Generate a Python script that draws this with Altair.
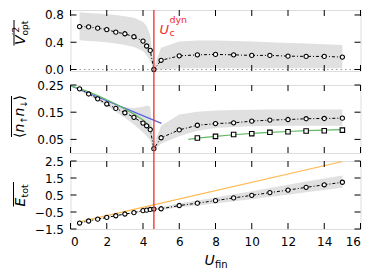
import altair as alt
import pandas as pd

# ---------------- data ----------------
U = [0.5, 1.0, 1.5, 2.0, 2.5, 3.0, 3.5, 4.0, 4.2, 4.4, 4.6, 5, 6, 7, 8, 9, 10, 11, 12, 13, 14, 15]

V2 = [0.63, 0.625, 0.607, 0.586, 0.548, 0.524, 0.48, 0.417, 0.345, 0.28, 0.0, 0.135, 0.2,
      0.215, 0.221, 0.215, 0.207, 0.207, 0.196, 0.192, 0.192, 0.182]
V2_lo = [0.43, 0.42, 0.41, 0.40, 0.38, 0.36, 0.33, 0.27, 0.21, 0.12, 0.0, 0.0, 0.02,
         0.02, 0.02, 0.02, 0.02, 0.02, 0.02, 0.02, 0.02, 0.02]
V2_hi = [0.84, 0.83, 0.82, 0.81, 0.80, 0.78, 0.76, 0.70, 0.64, 0.50, 0.04, 0.32, 0.41,
         0.425, 0.425, 0.42, 0.41, 0.40, 0.39, 0.38, 0.37, 0.36]

D = [0.236, 0.217, 0.199, 0.180, 0.164, 0.148, 0.131, 0.110, 0.100, 0.086, 0.016, 0.056, 0.085,
     0.102, 0.108, 0.111, 0.117, 0.121, 0.123, 0.126, 0.127, 0.128]
D_lo = [0.230, 0.211, 0.192, 0.172, 0.152, 0.130, 0.105, 0.075, 0.062, 0.048, 0.008, 0.035, 0.062,
        0.082, 0.092, 0.096, 0.098, 0.099, 0.100, 0.100, 0.100, 0.100]
D_hi = [0.242, 0.224, 0.206, 0.189, 0.176, 0.168, 0.165, 0.170, 0.175, 0.170, 0.030, 0.100, 0.142,
        0.152, 0.156, 0.158, 0.159, 0.160, 0.160, 0.160, 0.160, 0.160]

U_sq = [7, 8, 9, 10, 11, 12, 13, 14, 15]
D_sq = [0.055, 0.061, 0.068, 0.071, 0.076, 0.078, 0.081, 0.082, 0.084]

U_green_l = [0.0, 0.5, 1.0, 1.5, 2.0, 2.5, 3.0, 3.5, 4.0, 4.2, 4.4, 4.47]
D_green_l = [0.247, 0.237, 0.225, 0.211, 0.196, 0.180, 0.162, 0.143, 0.121, 0.110, 0.096, 0.090]
U_green_r = [6.5, 7, 8, 9, 10, 11, 12, 13, 14, 15]
D_green_r = [0.050, 0.055, 0.061, 0.067, 0.072, 0.076, 0.079, 0.082, 0.084, 0.086]
U_blue = [0.0, 5.02]
D_blue = [0.247, 0.109]

E = [-1.15, -1.03, -0.92, -0.82, -0.72, -0.62, -0.54, -0.42, -0.39, -0.35, -0.33, -0.31, -0.12,
     0.02, 0.17, 0.33, 0.48, 0.64, 0.79, 0.95, 1.10, 1.25]
E_lo = [-1.18, -1.06, -0.95, -0.85, -0.75, -0.65, -0.57, -0.46, -0.43, -0.39, -0.38, -0.38, -0.22,
        -0.12, 0.00, 0.13, 0.25, 0.39, 0.52, 0.66, 0.79, 0.92]
E_hi = [-1.12, -1.00, -0.89, -0.79, -0.69, -0.59, -0.51, -0.38, -0.35, -0.31, -0.28, -0.22, 0.01,
        0.18, 0.35, 0.54, 0.72, 0.91, 1.10, 1.29, 1.47, 1.65]
U_orange = [0.5, 15.0]
E_orange = [-1.08, 2.47]

UC = [4.6]
ZERO = [0.0]
X_TICKS = [0, 2, 4, 6, 8, 10, 12, 14, 16]
Y1_TICKS = [0.0, 0.4, 0.8]
Y2_TICKS = [0.05, 0.15, 0.25]
Y3_TICKS = [-1.5, -0.5, 0.5, 1.5, 2.5]

# ---------------- layout/styles ----------------
W = 290
H1, H2, H3 = 61, 68, 68
FONT = "DejaVu Sans"
RED = "#f22a2a"
BAND = "#e0e0e0"
TICK = 6

ONE = pd.DataFrame({"k": [0]})
UC_DF = pd.DataFrame({"u": UC})


def xenc(show):
    if show:
        ax = alt.Axis(values=X_TICKS, format="d", ticks=False, domain=False, grid=False,
                      title=None, labelPadding=7, labelFontSize=12, labelFont=FONT,
                      labelColor="black")
    else:
        ax = None
    return alt.X("u:Q", scale=alt.Scale(domain=[0, 16], nice=False, zero=False), axis=ax)


def yenc(field, domain, ticks, fmt):
    return alt.Y(field, scale=alt.Scale(domain=domain, nice=False, zero=False),
                 axis=alt.Axis(values=ticks, format=fmt, ticks=False, domain=False, grid=False,
                               title=None, labelPadding=7, labelFontSize=12, labelFont=FONT,
                               labelColor="black"))


def text(txt, x, y, size, style="normal", dx=0, dy=0, angle=270, color="black", data=ONE):
    return alt.Chart(data).mark_text(text=txt, angle=angle, align="left", baseline="alphabetic",
                                     font=FONT, fontSize=size, fontStyle=style, dx=dx, dy=dy,
                                     color=color).encode(x=x, y=y)


def panel(H, domain, ticks, fmt, show_x, series_df, lo_hi_df, extra_layers, red_extend, title_layers):
    yq = lambda f: yenc(f, domain, ticks, fmt)
    xe = xenc(show_x)
    band = alt.Chart(lo_hi_df).mark_area(color=BAND, opacity=1).encode(
        x=xe, y=yq("lo:Q"), y2="hi:Q")
    line = alt.Chart(series_df).mark_line(color="black", strokeWidth=1, strokeDash=[3, 2, 1, 2]).encode(
        x=xe, y=yq("v:Q"))
    pts = alt.Chart(series_df).mark_point(shape="circle", size=18, fill="white", stroke="black",
                                          strokeWidth=1.1, opacity=1, fillOpacity=1).encode(
        x=xe, y=yq("v:Q"))
    red = alt.Chart(UC_DF).mark_rule(color=RED, strokeWidth=1.3).encode(
        x=xe, y=alt.value(0), y2=alt.value(H + red_extend))
    xt = pd.DataFrame({"u": X_TICKS})
    yt = pd.DataFrame({"v": ticks})
    tick_layers = [
        alt.Chart(xt).mark_rule(color="black", strokeWidth=1).encode(
            x=xe, y=alt.value(0), y2=alt.value(TICK)),
        alt.Chart(xt).mark_rule(color="black", strokeWidth=1).encode(
            x=xe, y=alt.value(H), y2=alt.value(H - TICK)),
        alt.Chart(yt).mark_rule(color="black", strokeWidth=1).encode(
            y=yq("v:Q"), x=alt.value(0), x2=alt.value(TICK)),
        alt.Chart(yt).mark_rule(color="black", strokeWidth=1).encode(
            y=yq("v:Q"), x=alt.value(W), x2=alt.value(W - TICK)),
    ]
    layers = [band] + extra_layers(xe, yq) + [line, pts, red] + tick_layers + title_layers(xe)
    return alt.layer(*layers).properties(width=W, height=H)


# ---- panel 1 ----
df1 = pd.DataFrame({"u": U, "v": V2})
b1 = pd.DataFrame({"u": U, "lo": V2_lo, "hi": V2_hi})


def extra1(xe, yq):
    z = pd.DataFrame({"v": ZERO})
    return [alt.Chart(z).mark_rule(color="#999999", strokeWidth=1, strokeDash=[1.5, 3]).encode(
        y=yq("v:Q"), x=alt.value(0), x2=alt.value(W))]


def t1(xe):
    return [
        text("V", alt.value(-46), alt.value(35), 14, "italic"),
        text("\u20322", alt.value(-46), alt.value(35), 9.5, dx=10, dy=-6),
        text("opt", alt.value(-46), alt.value(35), 9, dx=9.5, dy=3.5),
        alt.Chart(ONE).mark_rule(color="black", strokeWidth=1).encode(
            x=alt.value(-56.5), y=alt.value(10), y2=alt.value(35.5)),
        text("U", xe, alt.value(23.7), 13, "italic", dx=5.5, angle=0, color=RED, data=UC_DF),
        text("dyn", xe, alt.value(12.5), 9.5, dx=15.5, angle=0, color=RED, data=UC_DF),
        text("c", xe, alt.value(26), 9.5, dx=15.5, angle=0, color=RED, data=UC_DF),
    ]


p1 = panel(H1, [-0.022, 0.873], Y1_TICKS, ".1f", False, df1, b1, extra1, 14, t1)

# ---- panel 2 ----
df2 = pd.DataFrame({"u": U, "v": D})
b2 = pd.DataFrame({"u": U, "lo": D_lo, "hi": D_hi})


def extra2(xe, yq):
    gl = pd.DataFrame({"u": U_green_l, "v": D_green_l})
    gr = pd.DataFrame({"u": U_green_r, "v": D_green_r})
    bl = pd.DataFrame({"u": U_blue, "v": D_blue})
    sq = pd.DataFrame({"u": U_sq, "v": D_sq})
    return [
        alt.Chart(bl).mark_line(color="#5560e0", strokeWidth=1.2).encode(x=xe, y=yq("v:Q")),
        alt.Chart(gl).mark_line(color="#62b862", strokeWidth=1.2).encode(x=xe, y=yq("v:Q")),
        alt.Chart(gr).mark_line(color="#62b862", strokeWidth=1.2).encode(x=xe, y=yq("v:Q")),
        alt.Chart(sq).mark_point(shape="square", size=20, fill="white", stroke="black",
                                 strokeWidth=1.1, opacity=1, fillOpacity=1).encode(x=xe, y=yq("v:Q")),
    ]


def t2(xe):
    return [
        text("\u27e8", alt.value(-47), alt.value(53), 14),
        text("n", alt.value(-47), alt.value(53), 14, "italic", dx=5.5),
        text("\u2191", alt.value(-47), alt.value(53), 9, dx=14.2, dy=3),
        text("n", alt.value(-47), alt.value(53), 14, "italic", dx=21.5),
        text("\u2193", alt.value(-47), alt.value(53), 9, dx=30.2, dy=3),
        text("\u27e9", alt.value(-47), alt.value(53), 14, dx=37.5),
        alt.Chart(ONE).mark_rule(color="black", strokeWidth=1).encode(
            x=alt.value(-59), y=alt.value(11), y2=alt.value(52)),
    ]


p2 = panel(H2, [0.0, 0.25], Y2_TICKS, ".2f", False, df2, b2, extra2, 8, t2)

# ---- panel 3 ----
df3 = pd.DataFrame({"u": U, "v": E})
b3 = pd.DataFrame({"u": U, "lo": E_lo, "hi": E_hi})


def extra3(xe, yq):
    ol = pd.DataFrame({"u": U_orange, "v": E_orange})
    return [alt.Chart(ol).mark_line(color="#ffb84d", strokeWidth=1.1).encode(x=xe, y=yq("v:Q"))]


def t3(xe):
    return [
        text("E", alt.value(-46), alt.value(45.5), 14, "italic"),
        text("tot", alt.value(-46), alt.value(45.5), 9.5, dx=9, dy=3.5),
        alt.Chart(ONE).mark_rule(color="black", strokeWidth=1).encode(
            x=alt.value(-57), y=alt.value(21), y2=alt.value(45.5)),
        text("U", alt.value(134), alt.value(103.5), 14, "italic", angle=0),
        text("fin", alt.value(144.5), alt.value(106.5), 10, angle=0),
    ]


p3 = panel(H3, [-1.5, 2.5], Y3_TICKS, ".1f", True, df3, b3, extra3, 0, t3)

inner = alt.vconcat(p2, p3, spacing=8, bounds="flush")
chart = alt.vconcat(p1, inner, spacing=14, bounds="flush").properties(
    padding={"left": 1.5, "top": 0, "right": 5, "bottom": 5}
).configure_view(stroke="black", strokeWidth=1.5).configure(background="white")

chart.save("out.html", embed_options={"renderer": "svg", "actions": False})
